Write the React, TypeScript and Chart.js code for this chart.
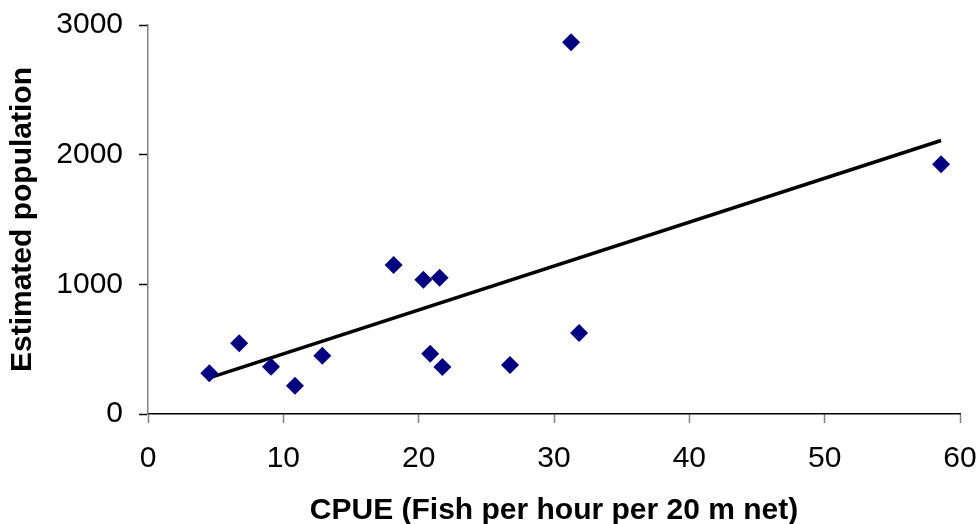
import React, { useEffect, useRef } from "react";
import { Chart, registerables } from "chart.js";

Chart.register(...registerables);

const cpue = [4.53, 6.74, 9.09, 10.86, 12.88, 18.15, 20.35, 21.55, 20.85, 21.75, 26.75, 31.26, 31.85, 58.6];
const population = [314, 545, 365, 218, 450, 1150, 1035, 1050, 465, 362, 378, 2867, 625, 1926];
const xTicks = [0, 10, 20, 30, 40, 50, 60];
const yTicks = [0, 1000, 2000, 3000];

const FONT = "'Liberation Sans', Arial, sans-serif";

export default function App() {
  const ref = useRef<HTMLCanvasElement | null>(null);

  useEffect(() => {
    document.body.style.margin = "0";
    const n = cpue.length;
    const mx = cpue.reduce((a, b) => a + b, 0) / n;
    const my = population.reduce((a, b) => a + b, 0) / n;
    let sxy = 0, sxx = 0;
    for (let i = 0; i < n; i++) {
      sxy += (cpue[i] - mx) * (population[i] - my);
      sxx += (cpue[i] - mx) ** 2;
    }
    const slope = sxy / sxx;
    const icpt = my - slope * mx;
    const xmin = Math.min(...cpue);
    const xmax = Math.max(...cpue);
    const trend = [
      { x: xmin, y: icpt + slope * xmin },
      { x: xmax, y: icpt + slope * xmax },
    ];

    const chart = new Chart(ref.current!, {
      type: "scatter",
      data: {
        datasets: [
          {
            data: cpue.map((x, i) => ({ x, y: population[i] })),
            pointStyle: "rectRot",
            pointRadius: 9,
            pointHoverRadius: 9,
            backgroundColor: "#000080",
            borderColor: "#000080",
            borderWidth: 0,
            order: 1,
          },
          {
            type: "line",
            data: trend,
            borderColor: "#000000",
            borderWidth: 3.5,
            pointRadius: 0,
            fill: false,
            order: 2,
          },
        ],
      },
      options: {
        animation: false,
        responsive: false,
        layout: { padding: { top: 25, right: 19, left: 0, bottom: 0 } },
        plugins: { legend: { display: false }, tooltip: { enabled: false } },
        scales: {
          x: {
            type: "linear",
            min: 0,
            max: 60,
            afterBuildTicks: (s: any) => {
              s.ticks = xTicks.map((v) => ({ value: v }));
            },
            afterFit: (s: any) => {
              s.height = 524 - 414;
              s.paddingLeft = 0;
              s.paddingRight = 0;
            },
            grid: {
              drawOnChartArea: false,
              drawTicks: true,
              tickLength: 9,
              color: "#808080",
              tickWidth: 1.5,
            },
            border: { color: "#000000", width: 1.5 },
            ticks: {
              color: "#000000",
              font: { family: FONT, size: 30 },
              padding: 18,
              maxRotation: 0,
              callback: (v: any) => String(v),
            },
            title: {
              display: true,
              text: "CPUE (Fish per hour per 20 m net)",
              color: "#000000",
              font: { family: FONT, size: 30, weight: "bold", lineHeight: 1 },
              padding: { top: 0, bottom: -2 },
            },
          },
          y: {
            type: "linear",
            min: 0,
            max: 3000,
            afterBuildTicks: (s: any) => {
              s.ticks = yTicks.map((v) => ({ value: v }));
            },
            afterFit: (s: any) => {
              s.width = 148;
              s.paddingTop = 0;
              s.paddingBottom = 0;
            },
            grid: {
              drawOnChartArea: false,
              drawTicks: true,
              tickLength: 9,
              color: "#000000",
              tickWidth: 1.5,
            },
            border: { color: "#808080", width: 1.5 },
            ticks: {
              color: "#000000",
              font: { family: FONT, size: 30 },
              padding: 16,
              callback: (v: any) => String(v),
            },
            title: {
              display: true,
              text: "Estimated population",
              color: "#000000",
              font: { family: FONT, size: 30, weight: "bold", lineHeight: 1 },
              padding: { top: 8, bottom: 0 },
            },
          },
        },
      },
    });
    return () => chart.destroy();
  }, []);

  return <canvas ref={ref} width={979} height={524} style={{ display: "block" }} />;
}
